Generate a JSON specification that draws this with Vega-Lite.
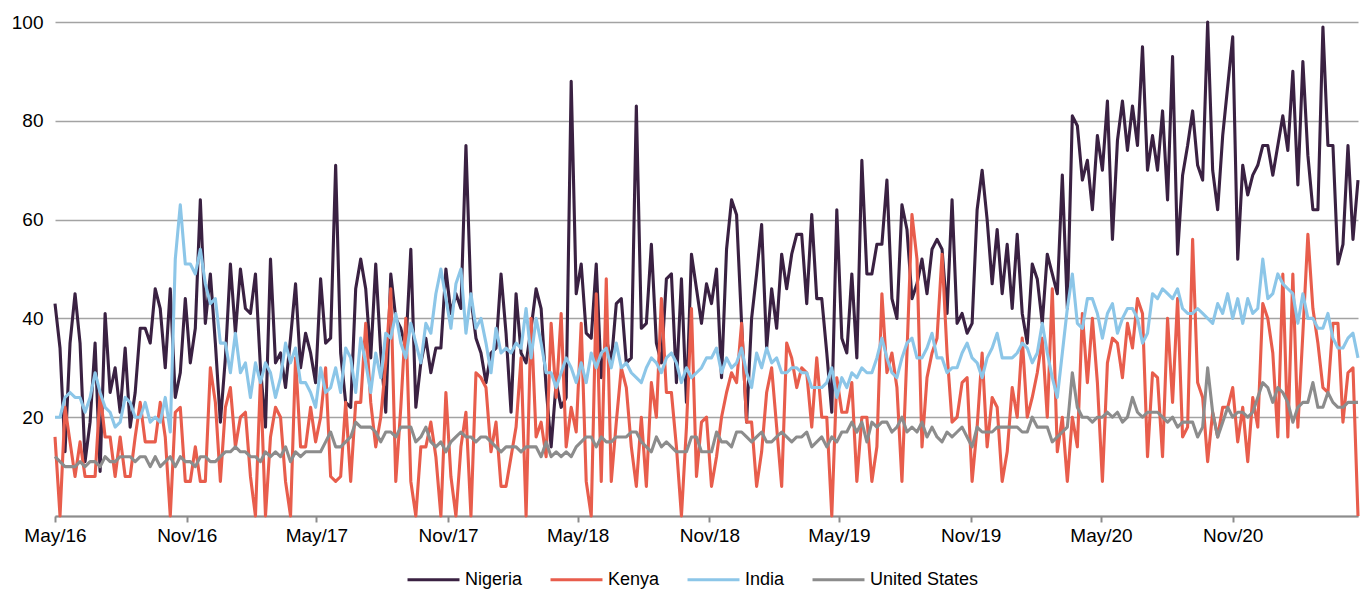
{
"$schema":"https://vega.github.io/schema/vega-lite/v6.json",
"width":1303,"height":494,
"autosize":{"type":"none"},
"padding":{"left":55,"top":22,"right":5,"bottom":74},
"background":"white",
"data":{"values":[
{"date":"2016-05-01","Nigeria":43,"Kenya":16,"India":20,"United States":12},
{"date":"2016-05-08","Nigeria":34,"Kenya":0,"India":20,"United States":11},
{"date":"2016-05-15","Nigeria":13,"Kenya":22,"India":24,"United States":10},
{"date":"2016-05-22","Nigeria":35,"Kenya":15,"India":25,"United States":10},
{"date":"2016-05-29","Nigeria":45,"Kenya":8,"India":24,"United States":10},
{"date":"2016-06-05","Nigeria":35,"Kenya":15,"India":24,"United States":11},
{"date":"2016-06-12","Nigeria":11,"Kenya":8,"India":21,"United States":10},
{"date":"2016-06-19","Nigeria":19,"Kenya":8,"India":24,"United States":11},
{"date":"2016-06-26","Nigeria":35,"Kenya":8,"India":29,"United States":11},
{"date":"2016-07-03","Nigeria":9,"Kenya":25,"India":25,"United States":10},
{"date":"2016-07-10","Nigeria":41,"Kenya":16,"India":22,"United States":12},
{"date":"2016-07-17","Nigeria":25,"Kenya":16,"India":21,"United States":11},
{"date":"2016-07-24","Nigeria":30,"Kenya":8,"India":18,"United States":11},
{"date":"2016-07-31","Nigeria":21,"Kenya":16,"India":19,"United States":12},
{"date":"2016-08-07","Nigeria":34,"Kenya":8,"India":24,"United States":12},
{"date":"2016-08-14","Nigeria":18,"Kenya":8,"India":23,"United States":12},
{"date":"2016-08-21","Nigeria":25,"Kenya":16,"India":20,"United States":11},
{"date":"2016-08-28","Nigeria":38,"Kenya":23,"India":20,"United States":12},
{"date":"2016-09-04","Nigeria":38,"Kenya":15,"India":23,"United States":12},
{"date":"2016-09-11","Nigeria":35,"Kenya":15,"India":19,"United States":10},
{"date":"2016-09-18","Nigeria":46,"Kenya":15,"India":20,"United States":12},
{"date":"2016-09-25","Nigeria":42,"Kenya":23,"India":19,"United States":10},
{"date":"2016-10-02","Nigeria":30,"Kenya":16,"India":24,"United States":11},
{"date":"2016-10-09","Nigeria":46,"Kenya":0,"India":17,"United States":12},
{"date":"2016-10-16","Nigeria":24,"Kenya":21,"India":52,"United States":10},
{"date":"2016-10-23","Nigeria":29,"Kenya":22,"India":63,"United States":12},
{"date":"2016-10-30","Nigeria":44,"Kenya":7,"India":51,"United States":11},
{"date":"2016-11-06","Nigeria":31,"Kenya":7,"India":51,"United States":11},
{"date":"2016-11-13","Nigeria":38,"Kenya":14,"India":49,"United States":10},
{"date":"2016-11-20","Nigeria":64,"Kenya":7,"India":54,"United States":12},
{"date":"2016-11-27","Nigeria":39,"Kenya":7,"India":47,"United States":12},
{"date":"2016-12-04","Nigeria":49,"Kenya":30,"India":43,"United States":11},
{"date":"2016-12-11","Nigeria":35,"Kenya":23,"India":44,"United States":11},
{"date":"2016-12-18","Nigeria":19,"Kenya":7,"India":35,"United States":12},
{"date":"2016-12-25","Nigeria":32,"Kenya":22,"India":35,"United States":13},
{"date":"2017-01-01","Nigeria":51,"Kenya":26,"India":29,"United States":13},
{"date":"2017-01-08","Nigeria":37,"Kenya":14,"India":37,"United States":14},
{"date":"2017-01-15","Nigeria":50,"Kenya":20,"India":29,"United States":13},
{"date":"2017-01-22","Nigeria":42,"Kenya":21,"India":31,"United States":13},
{"date":"2017-01-29","Nigeria":41,"Kenya":8,"India":24,"United States":12},
{"date":"2017-02-05","Nigeria":49,"Kenya":0,"India":31,"United States":12},
{"date":"2017-02-12","Nigeria":30,"Kenya":28,"India":27,"United States":11},
{"date":"2017-02-19","Nigeria":18,"Kenya":0,"India":31,"United States":13},
{"date":"2017-02-26","Nigeria":52,"Kenya":16,"India":29,"United States":12},
{"date":"2017-03-05","Nigeria":31,"Kenya":22,"India":24,"United States":13},
{"date":"2017-03-12","Nigeria":33,"Kenya":20,"India":28,"United States":12},
{"date":"2017-03-19","Nigeria":26,"Kenya":7,"India":35,"United States":14},
{"date":"2017-03-26","Nigeria":36,"Kenya":0,"India":31,"United States":11},
{"date":"2017-04-02","Nigeria":47,"Kenya":32,"India":34,"United States":13},
{"date":"2017-04-09","Nigeria":30,"Kenya":14,"India":27,"United States":12},
{"date":"2017-04-16","Nigeria":37,"Kenya":14,"India":27,"United States":13},
{"date":"2017-04-23","Nigeria":33,"Kenya":22,"India":25,"United States":13},
{"date":"2017-04-30","Nigeria":27,"Kenya":15,"India":22,"United States":13},
{"date":"2017-05-07","Nigeria":48,"Kenya":20,"India":30,"United States":13},
{"date":"2017-05-14","Nigeria":35,"Kenya":30,"India":25,"United States":15},
{"date":"2017-05-21","Nigeria":36,"Kenya":8,"India":26,"United States":17},
{"date":"2017-05-28","Nigeria":71,"Kenya":7,"India":30,"United States":14},
{"date":"2017-06-04","Nigeria":33,"Kenya":8,"India":25,"United States":14},
{"date":"2017-06-11","Nigeria":23,"Kenya":23,"India":34,"United States":15},
{"date":"2017-06-18","Nigeria":22,"Kenya":7,"India":32,"United States":16},
{"date":"2017-06-25","Nigeria":46,"Kenya":23,"India":25,"United States":19},
{"date":"2017-07-02","Nigeria":52,"Kenya":23,"India":36,"United States":18},
{"date":"2017-07-09","Nigeria":46,"Kenya":39,"India":31,"United States":18},
{"date":"2017-07-16","Nigeria":32,"Kenya":23,"India":25,"United States":18},
{"date":"2017-07-23","Nigeria":51,"Kenya":14,"India":33,"United States":17},
{"date":"2017-07-30","Nigeria":33,"Kenya":20,"India":28,"United States":15},
{"date":"2017-08-06","Nigeria":21,"Kenya":31,"India":37,"United States":17},
{"date":"2017-08-13","Nigeria":49,"Kenya":46,"India":36,"United States":17},
{"date":"2017-08-20","Nigeria":40,"Kenya":7,"India":41,"United States":16},
{"date":"2017-08-27","Nigeria":38,"Kenya":22,"India":35,"United States":18},
{"date":"2017-09-03","Nigeria":34,"Kenya":40,"India":32,"United States":18},
{"date":"2017-09-10","Nigeria":54,"Kenya":7,"India":39,"United States":18},
{"date":"2017-09-17","Nigeria":22,"Kenya":0,"India":35,"United States":15},
{"date":"2017-09-24","Nigeria":31,"Kenya":14,"India":31,"United States":16},
{"date":"2017-10-01","Nigeria":36,"Kenya":14,"India":39,"United States":18},
{"date":"2017-10-08","Nigeria":29,"Kenya":19,"India":37,"United States":15},
{"date":"2017-10-15","Nigeria":34,"Kenya":12,"India":45,"United States":14},
{"date":"2017-10-22","Nigeria":34,"Kenya":0,"India":50,"United States":15},
{"date":"2017-10-29","Nigeria":50,"Kenya":25,"India":44,"United States":13},
{"date":"2017-11-05","Nigeria":41,"Kenya":8,"India":38,"United States":15},
{"date":"2017-11-12","Nigeria":45,"Kenya":0,"India":47,"United States":16},
{"date":"2017-11-19","Nigeria":42,"Kenya":14,"India":50,"United States":17},
{"date":"2017-11-26","Nigeria":75,"Kenya":21,"India":37,"United States":16},
{"date":"2017-12-03","Nigeria":44,"Kenya":0,"India":45,"United States":16},
{"date":"2017-12-10","Nigeria":36,"Kenya":29,"India":38,"United States":15},
{"date":"2017-12-17","Nigeria":33,"Kenya":28,"India":40,"United States":16},
{"date":"2017-12-24","Nigeria":27,"Kenya":26,"India":35,"United States":16},
{"date":"2017-12-31","Nigeria":33,"Kenya":13,"India":29,"United States":15},
{"date":"2018-01-07","Nigeria":34,"Kenya":19,"India":38,"United States":14},
{"date":"2018-01-14","Nigeria":49,"Kenya":6,"India":33,"United States":13},
{"date":"2018-01-21","Nigeria":37,"Kenya":6,"India":34,"United States":14},
{"date":"2018-01-28","Nigeria":21,"Kenya":12,"India":33,"United States":14},
{"date":"2018-02-04","Nigeria":45,"Kenya":18,"India":35,"United States":14},
{"date":"2018-02-11","Nigeria":33,"Kenya":32,"India":34,"United States":13},
{"date":"2018-02-18","Nigeria":31,"Kenya":0,"India":42,"United States":14},
{"date":"2018-02-25","Nigeria":38,"Kenya":40,"India":32,"United States":14},
{"date":"2018-03-04","Nigeria":46,"Kenya":16,"India":40,"United States":14},
{"date":"2018-03-11","Nigeria":42,"Kenya":19,"India":35,"United States":12},
{"date":"2018-03-18","Nigeria":26,"Kenya":12,"India":29,"United States":15},
{"date":"2018-03-25","Nigeria":14,"Kenya":39,"India":29,"United States":12},
{"date":"2018-04-01","Nigeria":27,"Kenya":24,"India":26,"United States":13},
{"date":"2018-04-08","Nigeria":22,"Kenya":41,"India":29,"United States":12},
{"date":"2018-04-15","Nigeria":24,"Kenya":14,"India":32,"United States":13},
{"date":"2018-04-22","Nigeria":88,"Kenya":22,"India":30,"United States":12},
{"date":"2018-04-29","Nigeria":45,"Kenya":17,"India":27,"United States":14},
{"date":"2018-05-06","Nigeria":51,"Kenya":39,"India":31,"United States":15},
{"date":"2018-05-13","Nigeria":37,"Kenya":7,"India":27,"United States":16},
{"date":"2018-05-20","Nigeria":36,"Kenya":0,"India":33,"United States":16},
{"date":"2018-05-27","Nigeria":51,"Kenya":45,"India":30,"United States":14},
{"date":"2018-06-03","Nigeria":28,"Kenya":7,"India":33,"United States":16},
{"date":"2018-06-10","Nigeria":36,"Kenya":48,"India":34,"United States":15},
{"date":"2018-06-17","Nigeria":31,"Kenya":7,"India":30,"United States":15},
{"date":"2018-06-24","Nigeria":43,"Kenya":19,"India":35,"United States":16},
{"date":"2018-07-01","Nigeria":44,"Kenya":30,"India":30,"United States":16},
{"date":"2018-07-08","Nigeria":31,"Kenya":26,"India":31,"United States":16},
{"date":"2018-07-15","Nigeria":32,"Kenya":14,"India":29,"United States":17},
{"date":"2018-07-22","Nigeria":83,"Kenya":6,"India":28,"United States":17},
{"date":"2018-07-29","Nigeria":38,"Kenya":20,"India":27,"United States":15},
{"date":"2018-08-05","Nigeria":39,"Kenya":6,"India":30,"United States":14},
{"date":"2018-08-12","Nigeria":55,"Kenya":27,"India":32,"United States":13},
{"date":"2018-08-19","Nigeria":35,"Kenya":20,"India":31,"United States":16},
{"date":"2018-08-26","Nigeria":31,"Kenya":44,"India":29,"United States":14},
{"date":"2018-09-02","Nigeria":48,"Kenya":25,"India":32,"United States":15},
{"date":"2018-09-09","Nigeria":49,"Kenya":25,"India":33,"United States":14},
{"date":"2018-09-16","Nigeria":27,"Kenya":14,"India":31,"United States":13},
{"date":"2018-09-23","Nigeria":48,"Kenya":0,"India":27,"United States":13},
{"date":"2018-09-30","Nigeria":23,"Kenya":18,"India":30,"United States":13},
{"date":"2018-10-07","Nigeria":53,"Kenya":42,"India":28,"United States":16},
{"date":"2018-10-14","Nigeria":46,"Kenya":8,"India":29,"United States":16},
{"date":"2018-10-21","Nigeria":39,"Kenya":19,"India":30,"United States":13},
{"date":"2018-10-28","Nigeria":47,"Kenya":20,"India":32,"United States":13},
{"date":"2018-11-04","Nigeria":43,"Kenya":6,"India":32,"United States":13},
{"date":"2018-11-11","Nigeria":50,"Kenya":12,"India":34,"United States":17},
{"date":"2018-11-18","Nigeria":28,"Kenya":20,"India":29,"United States":15},
{"date":"2018-11-25","Nigeria":54,"Kenya":25,"India":32,"United States":15},
{"date":"2018-12-02","Nigeria":64,"Kenya":29,"India":30,"United States":14},
{"date":"2018-12-09","Nigeria":61,"Kenya":27,"India":31,"United States":17},
{"date":"2018-12-16","Nigeria":39,"Kenya":39,"India":34,"United States":17},
{"date":"2018-12-23","Nigeria":19,"Kenya":19,"India":29,"United States":16},
{"date":"2018-12-30","Nigeria":40,"Kenya":19,"India":26,"United States":15},
{"date":"2019-01-06","Nigeria":49,"Kenya":6,"India":33,"United States":16},
{"date":"2019-01-13","Nigeria":59,"Kenya":13,"India":30,"United States":17},
{"date":"2019-01-20","Nigeria":34,"Kenya":25,"India":34,"United States":15},
{"date":"2019-01-27","Nigeria":46,"Kenya":30,"India":31,"United States":15},
{"date":"2019-02-03","Nigeria":38,"Kenya":18,"India":32,"United States":16},
{"date":"2019-02-10","Nigeria":53,"Kenya":6,"India":29,"United States":17},
{"date":"2019-02-17","Nigeria":46,"Kenya":35,"India":29,"United States":16},
{"date":"2019-02-24","Nigeria":53,"Kenya":32,"India":30,"United States":15},
{"date":"2019-03-03","Nigeria":57,"Kenya":26,"India":30,"United States":16},
{"date":"2019-03-10","Nigeria":57,"Kenya":30,"India":29,"United States":16},
{"date":"2019-03-17","Nigeria":43,"Kenya":29,"India":29,"United States":17},
{"date":"2019-03-24","Nigeria":61,"Kenya":18,"India":26,"United States":14},
{"date":"2019-03-31","Nigeria":44,"Kenya":32,"India":26,"United States":15},
{"date":"2019-04-07","Nigeria":44,"Kenya":20,"India":26,"United States":16},
{"date":"2019-04-14","Nigeria":33,"Kenya":20,"India":27,"United States":14},
{"date":"2019-04-21","Nigeria":21,"Kenya":0,"India":30,"United States":16},
{"date":"2019-04-28","Nigeria":62,"Kenya":28,"India":24,"United States":15},
{"date":"2019-05-05","Nigeria":36,"Kenya":21,"India":28,"United States":17},
{"date":"2019-05-12","Nigeria":33,"Kenya":21,"India":26,"United States":17},
{"date":"2019-05-19","Nigeria":49,"Kenya":27,"India":29,"United States":19},
{"date":"2019-05-26","Nigeria":32,"Kenya":7,"India":28,"United States":17},
{"date":"2019-06-02","Nigeria":72,"Kenya":20,"India":30,"United States":19},
{"date":"2019-06-09","Nigeria":49,"Kenya":20,"India":29,"United States":15},
{"date":"2019-06-16","Nigeria":49,"Kenya":7,"India":29,"United States":19},
{"date":"2019-06-23","Nigeria":55,"Kenya":14,"India":32,"United States":18},
{"date":"2019-06-30","Nigeria":55,"Kenya":45,"India":36,"United States":19},
{"date":"2019-07-07","Nigeria":68,"Kenya":29,"India":32,"United States":19},
{"date":"2019-07-14","Nigeria":44,"Kenya":33,"India":29,"United States":17},
{"date":"2019-07-21","Nigeria":40,"Kenya":26,"India":28,"United States":18},
{"date":"2019-07-28","Nigeria":63,"Kenya":7,"India":32,"United States":20},
{"date":"2019-08-04","Nigeria":58,"Kenya":33,"India":35,"United States":17},
{"date":"2019-08-11","Nigeria":44,"Kenya":61,"India":36,"United States":18},
{"date":"2019-08-18","Nigeria":47,"Kenya":52,"India":32,"United States":17},
{"date":"2019-08-25","Nigeria":52,"Kenya":14,"India":32,"United States":19},
{"date":"2019-09-01","Nigeria":45,"Kenya":28,"India":34,"United States":16},
{"date":"2019-09-08","Nigeria":54,"Kenya":33,"India":37,"United States":18},
{"date":"2019-09-15","Nigeria":56,"Kenya":36,"India":32,"United States":16},
{"date":"2019-09-22","Nigeria":54,"Kenya":53,"India":32,"United States":15},
{"date":"2019-09-29","Nigeria":41,"Kenya":33,"India":29,"United States":17},
{"date":"2019-10-06","Nigeria":64,"Kenya":19,"India":30,"United States":16},
{"date":"2019-10-13","Nigeria":39,"Kenya":20,"India":30,"United States":17},
{"date":"2019-10-20","Nigeria":41,"Kenya":27,"India":33,"United States":18},
{"date":"2019-10-27","Nigeria":37,"Kenya":28,"India":35,"United States":16},
{"date":"2019-11-03","Nigeria":39,"Kenya":7,"India":32,"United States":14},
{"date":"2019-11-10","Nigeria":62,"Kenya":18,"India":31,"United States":18},
{"date":"2019-11-17","Nigeria":70,"Kenya":33,"India":28,"United States":17},
{"date":"2019-11-24","Nigeria":60,"Kenya":14,"India":32,"United States":17},
{"date":"2019-12-01","Nigeria":47,"Kenya":24,"India":34,"United States":17},
{"date":"2019-12-08","Nigeria":58,"Kenya":22,"India":37,"United States":18},
{"date":"2019-12-15","Nigeria":45,"Kenya":7,"India":32,"United States":18},
{"date":"2019-12-22","Nigeria":55,"Kenya":13,"India":32,"United States":18},
{"date":"2019-12-29","Nigeria":42,"Kenya":26,"India":32,"United States":18},
{"date":"2020-01-05","Nigeria":57,"Kenya":20,"India":33,"United States":18},
{"date":"2020-01-12","Nigeria":41,"Kenya":36,"India":35,"United States":17},
{"date":"2020-01-19","Nigeria":35,"Kenya":20,"India":34,"United States":17},
{"date":"2020-01-26","Nigeria":51,"Kenya":24,"India":31,"United States":20},
{"date":"2020-02-02","Nigeria":48,"Kenya":29,"India":33,"United States":18},
{"date":"2020-02-09","Nigeria":39,"Kenya":36,"India":39,"United States":18},
{"date":"2020-02-16","Nigeria":53,"Kenya":20,"India":33,"United States":18},
{"date":"2020-02-23","Nigeria":49,"Kenya":46,"India":28,"United States":15},
{"date":"2020-03-01","Nigeria":45,"Kenya":13,"India":24,"United States":16},
{"date":"2020-03-08","Nigeria":69,"Kenya":20,"India":33,"United States":17},
{"date":"2020-03-15","Nigeria":42,"Kenya":7,"India":42,"United States":18},
{"date":"2020-03-22","Nigeria":81,"Kenya":20,"India":49,"United States":29},
{"date":"2020-03-29","Nigeria":79,"Kenya":14,"India":39,"United States":22},
{"date":"2020-04-05","Nigeria":68,"Kenya":41,"India":38,"United States":20},
{"date":"2020-04-12","Nigeria":72,"Kenya":27,"India":44,"United States":20},
{"date":"2020-04-19","Nigeria":62,"Kenya":40,"India":44,"United States":19},
{"date":"2020-04-26","Nigeria":77,"Kenya":27,"India":41,"United States":20},
{"date":"2020-05-03","Nigeria":70,"Kenya":7,"India":36,"United States":20},
{"date":"2020-05-10","Nigeria":84,"Kenya":31,"India":41,"United States":21},
{"date":"2020-05-17","Nigeria":56,"Kenya":36,"India":43,"United States":20},
{"date":"2020-05-24","Nigeria":76,"Kenya":35,"India":37,"United States":21},
{"date":"2020-05-31","Nigeria":84,"Kenya":28,"India":40,"United States":19},
{"date":"2020-06-07","Nigeria":74,"Kenya":39,"India":42,"United States":20},
{"date":"2020-06-14","Nigeria":83,"Kenya":34,"India":42,"United States":24},
{"date":"2020-06-21","Nigeria":75,"Kenya":44,"India":40,"United States":21},
{"date":"2020-06-28","Nigeria":95,"Kenya":41,"India":35,"United States":20},
{"date":"2020-07-05","Nigeria":70,"Kenya":12,"India":37,"United States":21},
{"date":"2020-07-12","Nigeria":77,"Kenya":29,"India":45,"United States":21},
{"date":"2020-07-19","Nigeria":70,"Kenya":28,"India":44,"United States":21},
{"date":"2020-07-26","Nigeria":82,"Kenya":12,"India":46,"United States":20},
{"date":"2020-08-02","Nigeria":64,"Kenya":40,"India":45,"United States":19},
{"date":"2020-08-09","Nigeria":93,"Kenya":23,"India":44,"United States":20},
{"date":"2020-08-16","Nigeria":53,"Kenya":44,"India":46,"United States":18},
{"date":"2020-08-23","Nigeria":69,"Kenya":16,"India":42,"United States":19},
{"date":"2020-08-30","Nigeria":75,"Kenya":18,"India":41,"United States":19},
{"date":"2020-09-06","Nigeria":82,"Kenya":56,"India":41,"United States":19},
{"date":"2020-09-13","Nigeria":71,"Kenya":27,"India":42,"United States":16},
{"date":"2020-09-20","Nigeria":68,"Kenya":24,"India":41,"United States":18},
{"date":"2020-09-27","Nigeria":100,"Kenya":11,"India":40,"United States":30},
{"date":"2020-10-04","Nigeria":70,"Kenya":21,"India":39,"United States":21},
{"date":"2020-10-11","Nigeria":62,"Kenya":16,"India":43,"United States":16},
{"date":"2020-10-18","Nigeria":77,"Kenya":22,"India":41,"United States":19},
{"date":"2020-10-25","Nigeria":87,"Kenya":22,"India":45,"United States":22},
{"date":"2020-11-01","Nigeria":97,"Kenya":26,"India":40,"United States":20},
{"date":"2020-11-08","Nigeria":52,"Kenya":15,"India":44,"United States":21},
{"date":"2020-11-15","Nigeria":71,"Kenya":22,"India":39,"United States":21},
{"date":"2020-11-22","Nigeria":65,"Kenya":11,"India":44,"United States":20},
{"date":"2020-11-29","Nigeria":69,"Kenya":24,"India":41,"United States":21},
{"date":"2020-12-06","Nigeria":71,"Kenya":18,"India":42,"United States":24},
{"date":"2020-12-13","Nigeria":75,"Kenya":43,"India":52,"United States":27},
{"date":"2020-12-20","Nigeria":75,"Kenya":40,"India":44,"United States":26},
{"date":"2020-12-27","Nigeria":69,"Kenya":33,"India":45,"United States":23},
{"date":"2021-01-03","Nigeria":75,"Kenya":16,"India":49,"United States":26},
{"date":"2021-01-10","Nigeria":81,"Kenya":49,"India":47,"United States":25},
{"date":"2021-01-17","Nigeria":74,"Kenya":16,"India":46,"United States":23},
{"date":"2021-01-24","Nigeria":90,"Kenya":49,"India":45,"United States":19},
{"date":"2021-01-31","Nigeria":67,"Kenya":18,"India":39,"United States":22},
{"date":"2021-02-07","Nigeria":92,"Kenya":37,"India":45,"United States":23},
{"date":"2021-02-14","Nigeria":73,"Kenya":57,"India":40,"United States":23},
{"date":"2021-02-21","Nigeria":62,"Kenya":42,"India":40,"United States":27},
{"date":"2021-02-28","Nigeria":62,"Kenya":35,"India":38,"United States":22},
{"date":"2021-03-07","Nigeria":99,"Kenya":26,"India":38,"United States":22},
{"date":"2021-03-14","Nigeria":75,"Kenya":25,"India":41,"United States":25},
{"date":"2021-03-21","Nigeria":75,"Kenya":39,"India":36,"United States":23},
{"date":"2021-03-28","Nigeria":51,"Kenya":39,"India":34,"United States":22},
{"date":"2021-04-04","Nigeria":55,"Kenya":19,"India":34,"United States":22},
{"date":"2021-04-11","Nigeria":75,"Kenya":29,"India":36,"United States":23},
{"date":"2021-04-18","Nigeria":56,"Kenya":30,"India":37,"United States":23},
{"date":"2021-04-25","Nigeria":68,"Kenya":0,"India":32,"United States":23}
]},
"transform":[{"fold":["Nigeria","Kenya","India","United States"],"as":["country","value"]}],
"mark":{"type":"line","strokeWidth":3.1,"strokeJoin":"round"},
"encoding":{
"x":{"field":"date","type":"temporal",
"scale":{"type":"utc","nice":false,"domain":[{"year":2016,"month":5,"date":1,"utc":true},{"year":2021,"month":4,"date":25,"utc":true}]},
"axis":{"title":null,"format":"%b/%y","labelFlush":false,"labelOverlap":false,"grid":false,
"values":[{"year":2016,"month":5,"date":1,"utc":true},{"year":2016,"month":11,"date":1,"utc":true},{"year":2017,"month":5,"date":1,"utc":true},{"year":2017,"month":11,"date":1,"utc":true},{"year":2018,"month":5,"date":1,"utc":true},{"year":2018,"month":11,"date":1,"utc":true},{"year":2019,"month":5,"date":1,"utc":true},{"year":2019,"month":11,"date":1,"utc":true},{"year":2020,"month":5,"date":1,"utc":true},{"year":2020,"month":11,"date":1,"utc":true}],
"domainColor":"#8c8c8c","domainWidth":2,"tickColor":"#8c8c8c","tickWidth":2,"tickSize":6,"labelPadding":4,"labelFontSize":19,"labelColor":"#000000","labelFont":"Liberation Sans"}},
"y":{"field":"value","type":"quantitative","scale":{"domain":[0,100],"nice":false},
"axis":{"title":null,"values":[0,20,40,60,80,100],"labelExpr":"datum.value == 0 ? '' : datum.label","domain":false,"ticks":false,"grid":true,"gridColor":"#a3a3a3","gridWidth":1.4,"labelPadding":12,"labelFontSize":19,"labelColor":"#000000","labelFont":"Liberation Sans"}},
"color":{"field":"country","type":"nominal",
"scale":{"domain":["Nigeria","Kenya","India","United States"],"range":["#3a2142","#e85d4c","#8cc6e8","#8c8c8c"]},
"legend":{"title":null,"orient":"none","legendX":351,"legendY":530,"direction":"horizontal","symbolType":"stroke","symbolSize":2700,"symbolStrokeWidth":3,"labelFontSize":18,"labelFont":"Liberation Sans","labelColor":"#000000","labelOffset":4,"columnPadding":21}}
},
"config":{"view":{"stroke":null},"font":"Liberation Sans"}
}
